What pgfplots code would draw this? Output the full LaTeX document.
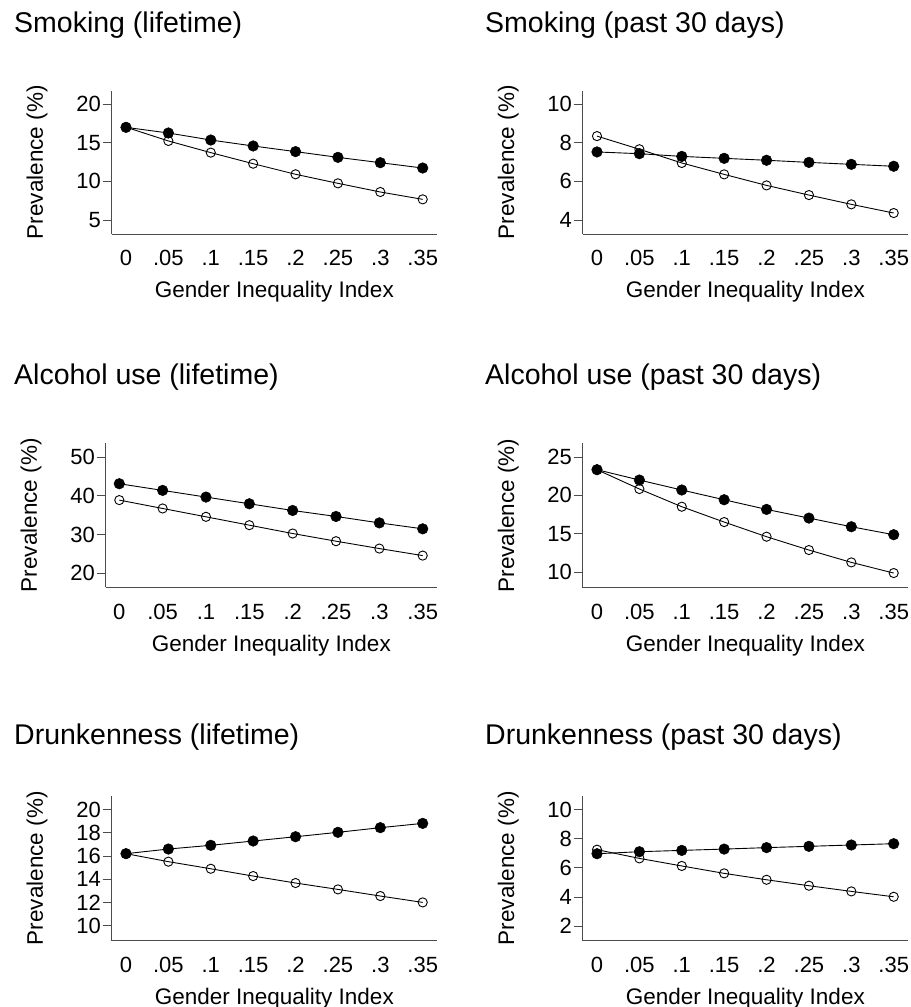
\documentclass[border=0pt]{standalone}
\usepackage{fontspec}
\setmainfont{Liberation Sans}
\usepackage{pgfplots}
\usepackage{pgfplotstable}
\pgfplotsset{compat=1.18}

\pgfplotstableread{
x f o
0 16.98 17.00
0.05 16.25 15.22
0.1 15.34 13.71
0.15 14.57 12.28
0.2 13.84 10.91
0.25 13.10 9.74
0.3 12.41 8.62
0.35 11.72 7.67
}\tA
\pgfplotstableread{
x f o
0 7.52 8.34
0.05 7.43 7.66
0.1 7.29 6.95
0.15 7.19 6.36
0.2 7.09 5.79
0.25 6.98 5.29
0.3 6.88 4.81
0.35 6.78 4.36
}\tB
\pgfplotstableread{
x f o
0 43.10 38.88
0.05 41.38 36.72
0.1 39.66 34.57
0.15 37.93 32.41
0.2 36.20 30.26
0.25 34.66 28.28
0.3 33.00 26.38
0.35 31.47 24.57
}\tC
\pgfplotstableread{
x f o
0 23.35 23.35
0.05 22.00 20.83
0.1 20.70 18.52
0.15 19.43 16.52
0.2 18.17 14.61
0.25 17.04 12.87
0.3 15.91 11.26
0.35 14.87 9.87
}\tD
\pgfplotstableread{
x f o
0 16.21 16.21
0.05 16.61 15.52
0.1 16.93 14.91
0.15 17.30 14.28
0.2 17.67 13.68
0.25 18.05 13.13
0.3 18.45 12.56
0.35 18.82 12.01
}\tE
\pgfplotstableread{
x f o
0 6.97 7.25
0.05 7.11 6.65
0.1 7.20 6.13
0.15 7.29 5.62
0.2 7.39 5.18
0.25 7.48 4.77
0.3 7.57 4.38
0.35 7.66 4.01
}\tF

\pgfplotsset{
 gii/.style={
  scale only axis,
  anchor=south west,
  axis lines*=left,
  axis line style={black!70, line width=0.8bp},
  xmin=-0.01687, xmax=0.36687,
  xtick={0,0.05,0.1,0.15,0.2,0.25,0.3,0.35},
  xticklabels={0,.05,.1,.15,.2,.25,.3,.35},
  x tick style={draw=none},
  y tick style={black!70, line width=0.8bp},
  tick align=outside,
  major tick length=9bp,
  /pgf/number format/assume math mode=true,
  ticklabel style={font=\fontsize{22bp}{26bp}\selectfont},
  xticklabel style={anchor=base, inner sep=0pt, yshift=-23bp},
  yticklabel style={anchor=east, inner sep=0pt, xshift=-1.7bp},
  every axis x label/.style={at={(axis description cs:0.5,0)}, anchor=base, yshift=-64bp, font=\fontsize{22.5bp}{27bp}\selectfont},
  every axis y label/.style={at={(axis description cs:0,0.5)}, xshift=-68.7bp, rotate=90, anchor=base, font=\fontsize{22.5bp}{27bp}\selectfont},
  xlabel={Gender Inequality Index},
  ylabel={Prevalence (\%)},
  clip=false,
 },
 fser/.style={black, line width=0.9bp, mark=*, mark size=5.3bp, mark options={fill=black, line width=0.5bp}},
 oser/.style={black, line width=0.9bp, mark=o, mark size=4.6bp, mark options={fill=white, line width=0.9bp}},
}

\newcommand\ttl{\fontsize{28.5bp}{33bp}\selectfont}

\begin{document}
\begin{tikzpicture}
\useasboundingbox (0bp,0bp) rectangle (911bp,1007bp);

\node[anchor=base west, inner sep=0pt] at (14bp,974.7bp) {\ttl Smoking (lifetime)};
\node[anchor=base west, inner sep=0pt] at (485bp,974.7bp) {\ttl Smoking (past 30 days)};
\node[anchor=base west, inner sep=0pt] at (14bp,622.7bp) {\ttl Alcohol use (lifetime)};
\node[anchor=base west, inner sep=0pt] at (485bp,622.7bp) {\ttl Alcohol use (past 30 days)};
\node[anchor=base west, inner sep=0pt] at (14bp,262.7bp) {\ttl Drunkenness (lifetime)};
\node[anchor=base west, inner sep=0pt] at (485bp,262.7bp) {\ttl Drunkenness (past 30 days)};

\begin{axis}[gii, at={(111.7bp,773bp)}, width=325.3bp, height=143.3bp,
  ymin=3.19, ymax=21.72, ytick={5,10,15,20}]
\addplot[oser] table[x=x,y=o] {\tA};
\addplot[fser] table[x=x,y=f] {\tA};
\end{axis}

\begin{axis}[gii, at={(582.7bp,773bp)}, width=325.3bp, height=143.3bp,
  ymin=3.276, ymax=10.69, ytick={4,6,8,10}]
\addplot[oser] table[x=x,y=o] {\tB};
\addplot[fser] table[x=x,y=f] {\tB};
\end{axis}

\begin{axis}[gii, at={(105.7bp,419.7bp)}, width=331.3bp, height=144bp,
  xmin=-0.0157, xmax=0.3665,
  ymin=16.39, ymax=53.53, ytick={20,30,40,50}]
\addplot[oser] table[x=x,y=o] {\tC};
\addplot[fser] table[x=x,y=f] {\tC};
\end{axis}

\begin{axis}[gii, at={(582.7bp,419.3bp)}, width=325.3bp, height=144.3bp,
  ymin=7.96, ymax=26.78, ytick={10,15,20,25}]
\addplot[oser] table[x=x,y=o] {\tD};
\addplot[fser] table[x=x,y=f] {\tD};
\end{axis}

\begin{axis}[gii, at={(111.7bp,66.3bp)}, width=325.3bp, height=144.7bp,
  ymin=8.71, ymax=21.18, ytick={10,12,14,16,18,20}]
\addplot[oser] table[x=x,y=o] {\tE};
\addplot[fser] table[x=x,y=f] {\tE};
\end{axis}

\begin{axis}[gii, at={(582.7bp,66.3bp)}, width=325.3bp, height=144.7bp,
  ymin=0.99, ymax=10.94, ytick={2,4,6,8,10}]
\addplot[oser] table[x=x,y=o] {\tF};
\addplot[fser] table[x=x,y=f] {\tF};
\end{axis}
\end{tikzpicture}
\end{document}
